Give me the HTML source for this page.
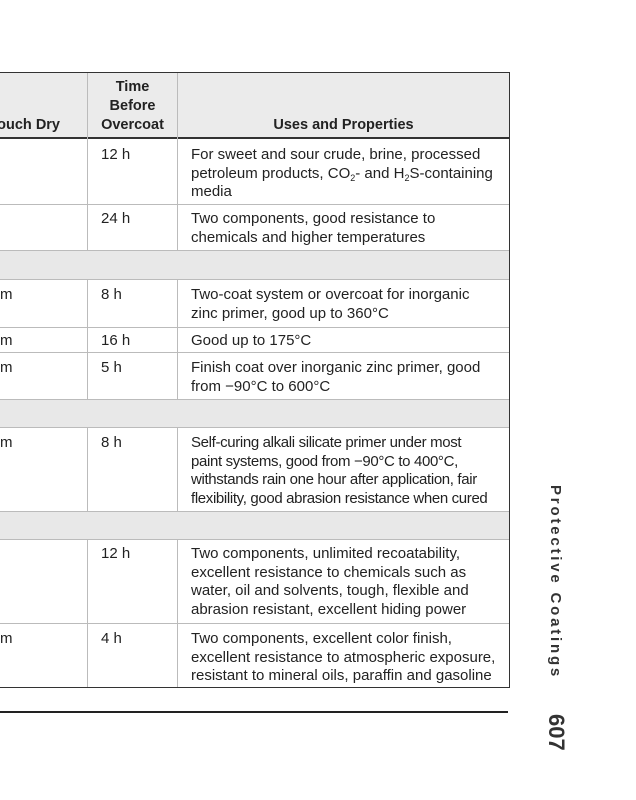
<!DOCTYPE html>
<html><head><style>
body{margin:0;width:636px;height:800px;background:#fff;position:relative;overflow:hidden;font-family:"Liberation Sans",Arial,sans-serif;color:#222;}
.a{position:absolute;}
.h{position:absolute;left:0;width:509px;background:#bbb;height:1px;}
.g{position:absolute;left:0;width:509px;background:#e8e8e8;}
.t{position:absolute;font-size:15px;line-height:18.5px;white-space:nowrap;margin-top:1px;}
.hd{position:absolute;font-size:14.5px;font-weight:bold;line-height:19px;text-align:center;}
sub{font-size:9px;line-height:0;vertical-align:-3px;}
</style></head><body>
<div class="a" style="left:0;top:73px;width:509px;height:65px;background:#ebebeb"></div>
<div class="g" style="top:250px;height:29px"></div>
<div class="g" style="top:399px;height:28px"></div>
<div class="g" style="top:511px;height:28px"></div>
<div class="a" style="left:0;top:72px;width:510px;height:1px;background:#333"></div>
<div class="a" style="left:0;top:137px;width:510px;height:2px;background:#333"></div>
<div class="a" style="left:0;top:687px;width:510px;height:1px;background:#333"></div>
<div class="a" style="left:509px;top:72px;width:1px;height:616px;background:#333"></div>
<div class="h" style="top:204px"></div>
<div class="h" style="top:250px"></div>
<div class="h" style="top:279px"></div>
<div class="h" style="top:327px"></div>
<div class="h" style="top:352px"></div>
<div class="h" style="top:399px"></div>
<div class="h" style="top:427px"></div>
<div class="h" style="top:511px"></div>
<div class="h" style="top:539px"></div>
<div class="h" style="top:623px"></div>
<div class="a" style="left:87px;top:73px;width:1px;height:177px;background:#bbb"></div>
<div class="a" style="left:177px;top:73px;width:1px;height:177px;background:#bbb"></div>
<div class="a" style="left:87px;top:279px;width:1px;height:120px;background:#bbb"></div>
<div class="a" style="left:177px;top:279px;width:1px;height:120px;background:#bbb"></div>
<div class="a" style="left:87px;top:427px;width:1px;height:84px;background:#bbb"></div>
<div class="a" style="left:177px;top:427px;width:1px;height:84px;background:#bbb"></div>
<div class="a" style="left:87px;top:539px;width:1px;height:148px;background:#bbb"></div>
<div class="a" style="left:177px;top:539px;width:1px;height:148px;background:#bbb"></div>
<div class="a" style="left:0;top:711px;width:508px;height:2px;background:#222"></div>

<div class="hd" style="left:-40px;top:116px;width:100px;text-align:right">ouch Dry</div>
<div class="hd" style="left:88px;top:78px;width:89px">Time<br>Before<br>Overcoat</div>
<div class="hd" style="left:178px;top:116px;width:331px">Uses and Properties</div>

<div class="t" style="left:101px;top:145px">12 h</div>
<div class="t" style="left:191px;top:145px">For sweet and sour crude, brine, processed<br>petroleum products, CO<sub>2</sub>- and H<sub>2</sub>S-containing<br>media</div>
<div class="t" style="left:101px;top:209px">24 h</div>
<div class="t" style="left:191px;top:209px">Two components, good resistance to<br>chemicals and higher temperatures</div>
<div class="t" style="left:0;top:285px">m</div>
<div class="t" style="left:101px;top:285px">8 h</div>
<div class="t" style="left:191px;top:285px">Two-coat system or overcoat for inorganic<br>zinc primer, good up to 360°C</div>
<div class="t" style="left:0;top:331px">m</div>
<div class="t" style="left:101px;top:331px">16 h</div>
<div class="t" style="left:191px;top:331px">Good up to 175°C</div>
<div class="t" style="left:0;top:358px">m</div>
<div class="t" style="left:101px;top:358px">5 h</div>
<div class="t" style="left:191px;top:358px">Finish coat over inorganic zinc primer, good<br>from −90°C to 600°C</div>
<div class="t" style="left:0;top:433px">m</div>
<div class="t" style="left:101px;top:433px">8 h</div>
<div class="t" style="left:191px;top:433px;letter-spacing:-0.35px">Self-curing alkali silicate primer under most<br>paint systems, good from −90°C to 400°C,<br>withstands rain one hour after application, fair<br>flexibility, good abrasion resistance when cured</div>
<div class="t" style="left:101px;top:544px">12 h</div>
<div class="t" style="left:191px;top:544px">Two components, unlimited recoatability,<br>excellent resistance to chemicals such as<br>water, oil and solvents, tough, flexible and<br>abrasion resistant, excellent hiding power</div>
<div class="t" style="left:0;top:629px">m</div>
<div class="t" style="left:101px;top:629px">4 h</div>
<div class="t" style="left:191px;top:629px">Two components, excellent color finish,<br>excellent resistance to atmospheric exposure,<br>resistant to mineral oils, paraffin and gasoline</div>

<div class="a" style="left:564px;top:485px;transform-origin:0 0;transform:rotate(90deg);white-space:nowrap;font-size:15px;font-weight:bold;letter-spacing:2.8px;color:#333">Protective Coatings</div>
<div class="a" style="left:569px;top:714px;transform-origin:0 0;transform:rotate(90deg);white-space:nowrap;font-size:22px;font-weight:bold;color:#333;">607</div>
</body></html>
